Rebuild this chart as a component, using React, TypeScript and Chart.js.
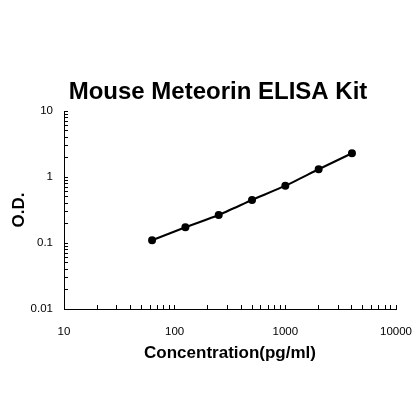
import { Chart, registerables } from "chart.js";
import { useEffect, useRef } from "react";

Chart.register(...registerables);

const concentrations = [62.5, 125, 250, 500, 1000, 2000, 4000];
const odValues = [0.11, 0.173, 0.266, 0.448, 0.738, 1.31, 2.29];
const xTickLabels = [10, 100, 1000, 10000];
const yTickLabels = [0.01, 0.1, 1, 10];

const chartTitle = "Mouse Meteorin ELISA Kit";
const fontFamily = '"Liberation Sans", Arial, sans-serif';

// log ticks 1..9 per decade, labels only on powers of ten
function decadeTicks(min: number, max: number) {
  const out: { value: number }[] = [];
  for (let d = min; d < max; d *= 10) {
    for (let k = 1; k < 10; k++) out.push({ value: +(d * k).toPrecision(3) });
  }
  out.push({ value: max });
  return out;
}

const titlePlugin = {
  id: "fixedTitle",
  afterDraw(chart: Chart) {
    const ctx = chart.ctx;
    ctx.save();
    ctx.font = `bold 24px ${fontFamily}`;
    ctx.fillStyle = "#000";
    ctx.textAlign = "center";
    ctx.textBaseline = "alphabetic";
    ctx.fillText(chartTitle, 218, 99);
    ctx.restore();
  },
};

export default function App() {
  const canvasRef = useRef<HTMLCanvasElement>(null);

  useEffect(() => {
    if (!canvasRef.current) return;
    const ctx = canvasRef.current.getContext("2d");
    if (!ctx) return;

    const chart = new Chart(ctx, {
      type: "line",
      data: {
        datasets: [
          {
            data: concentrations.map((c, i) => ({ x: c, y: odValues[i] })),
            borderColor: "#000",
            backgroundColor: "#000",
            borderWidth: 2,
            pointRadius: 3,
            pointBackgroundColor: "#000",
            tension: 0.2,
          },
        ],
      },
      options: {
        animation: false,
        responsive: true,
        maintainAspectRatio: false,
        layout: { padding: { top: 111, right: 24, left: 0, bottom: 0 } },
        plugins: { legend: { display: false }, title: { display: false }, tooltip: { enabled: false } },
        scales: {
          x: {
            type: "logarithmic",
            min: 10,
            max: 10000,
            afterBuildTicks: (s: any) => {
              s.ticks = decadeTicks(10, 10000);
            },
            afterFit: (s: any) => {
              s.height = 111;
              s.paddingLeft = 0;
              s.paddingRight = 0;
            },
            ticks: {
              autoSkip: false,
              maxRotation: 0,
              padding: 20,
              color: "#000",
              font: { family: fontFamily, size: 11.5 },
              callback: (v: any) => (xTickLabels.includes(Number(v)) ? String(v) : ""),
            },
            grid: { drawOnChartArea: false, drawTicks: true, tickLength: -4, color: "#000", lineWidth: 1 },
            border: { display: true, color: "#000", width: 1 },
            title: {
              display: true,
              text: "Concentration(pg/ml)",
              color: "#000",
              font: { family: fontFamily, size: 17, weight: "bold" },
              padding: { top: 0, bottom: 56 },
            },
          },
          y: {
            type: "logarithmic",
            min: 0.01,
            max: 10,
            afterBuildTicks: (s: any) => {
              s.ticks = decadeTicks(0.01, 10);
            },
            afterFit: (s: any) => {
              s.width = 64;
            },
            ticks: {
              autoSkip: false,
              padding: 15,
              color: "#000",
              font: { family: fontFamily, size: 11.5 },
              callback: (v: any) => (yTickLabels.includes(Number(v)) ? String(v) : ""),
            },
            grid: { drawOnChartArea: false, drawTicks: true, tickLength: -4, color: "#000", lineWidth: 1 },
            border: { display: true, color: "#000", width: 1 },
            title: {
              display: true,
              text: "O.D.",
              color: "#000",
              font: { family: fontFamily, size: 17, weight: "bold" },
              padding: { top: 9, bottom: 0 },
            },
          },
        },
      },
      plugins: [titlePlugin],
    });

    return () => chart.destroy();
  }, []);

  return (
    <div style={{ position: "fixed", left: 0, top: 0, width: 420, height: 420, background: "#fff" }}>
      <canvas ref={canvasRef} />
    </div>
  );
}
